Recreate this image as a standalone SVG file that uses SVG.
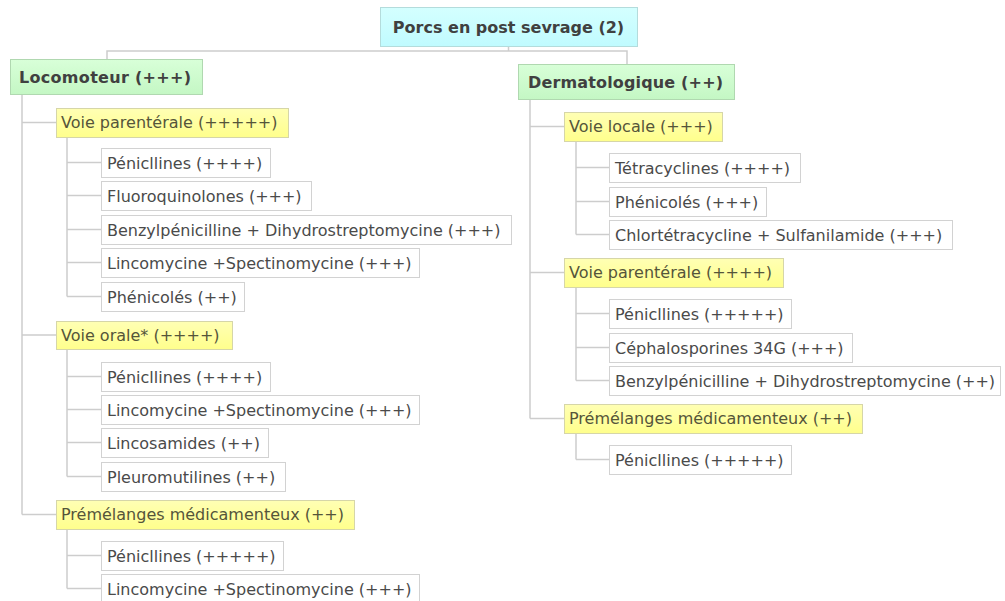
<svg xmlns="http://www.w3.org/2000/svg" width="1005" height="601" viewBox="0 0 1005 601">
<defs>
<linearGradient id="gY" x1="0" y1="0" x2="0" y2="1"><stop offset="0" stop-color="#ffffb4"/><stop offset="1" stop-color="#ffff8c"/></linearGradient>
<linearGradient id="gG" x1="0" y1="0" x2="0" y2="1"><stop offset="0" stop-color="#d8ffd8"/><stop offset="1" stop-color="#c4f7c4"/></linearGradient>
<linearGradient id="gC" x1="0" y1="0" x2="0" y2="1"><stop offset="0" stop-color="#d4ffff"/><stop offset="1" stop-color="#c0fbff"/></linearGradient>
<style>
text{font-family:"DejaVu Sans",Verdana,sans-serif;font-size:16px;fill:#4a4a4a}
.b{font-weight:bold;fill:#404040}
.root rect{fill:url(#gC);stroke:#b4dcdc;stroke-width:1}
.main rect{fill:url(#gG);stroke:#b0d8b0;stroke-width:1}
.sub rect{fill:url(#gY);stroke:#d6d6a8;stroke-width:1}
.sub text{fill:#55553a}
.leaf rect{fill:#fff;stroke:#d2d2d2;stroke-width:1}
.conn path{fill:none;stroke:#cdcdcd;stroke-width:1.5}
</style>
</defs>
<rect width="1005" height="601" fill="#fff"/>
<g id="connectors" class="conn">
<path d="M508.5,46 V51 M107,59 V51 H627 V64"/>
<path d="M22,94 V514.5 M22,122.5 H56 M22,335 H56 M22,514.5 H56"/>
<path d="M67,137 V296.5 M67,162.5 H101 M67,195.5 H101 M67,229.5 H101 M67,262.5 H101 M67,296.5 H101"/>
<path d="M67,349 V476.5 M67,376.5 H101 M67,409.5 H101 M67,442.5 H101 M67,476.5 H101"/>
<path d="M67,529 V588.5 M67,555.5 H101 M67,588.5 H101"/>
<path d="M530,99 V418.5 M530,126.5 H564 M530,272.5 H564 M530,418.5 H564"/>
<path d="M576,141 V234.5 M576,167.5 H609 M576,201.5 H609 M576,234.5 H609"/>
<path d="M576,287 V380.5 M576,313.5 H609 M576,347.5 H609 M576,380.5 H609"/>
<path d="M576,433 V459.5 M576,459.5 H609"/>
</g>
<g id="root" class="root"><rect x="380.5" y="7.5" width="257" height="39"/><text class="b" x="508.5" y="33" text-anchor="middle">Porcs en post sevrage (2)</text></g>
<g id="locomoteur" class="main"><rect x="10.5" y="59.5" width="192" height="35"/><text class="b" x="19" y="83" textLength="172">Locomoteur (+++)</text></g>
<g id="dermatologique" class="main"><rect x="518.5" y="64.5" width="216" height="35"/><text class="b" x="528" y="88" textLength="195">Dermatologique (++)</text></g>

<g id="l-parenterale" class="sub"><rect x="56.5" y="108.5" width="232" height="29"/><text x="61" y="128">Voie parentérale (+++++)</text></g>
<g id="l-p1" class="leaf"><rect x="101.5" y="148.5" width="169" height="29"/><text x="107" y="169">Pénicllines (++++)</text></g>
<g id="l-p2" class="leaf"><rect x="101.5" y="181.5" width="210" height="29"/><text x="107" y="202">Fluoroquinolones (+++)</text></g>
<g id="l-p3" class="leaf"><rect x="101.5" y="215.5" width="410" height="29"/><text x="107" y="236">Benzylpénicilline + Dihydrostreptomycine (+++)</text></g>
<g id="l-p4" class="leaf"><rect x="101.5" y="248.5" width="318" height="29"/><text x="107" y="269">Lincomycine +Spectinomycine (+++)</text></g>
<g id="l-p5" class="leaf"><rect x="101.5" y="282.5" width="143" height="29"/><text x="107" y="303">Phénicolés (++)</text></g>

<g id="l-orale" class="sub"><rect x="56.5" y="321.5" width="176" height="28"/><text x="61" y="341">Voie orale* (++++)</text></g>
<g id="l-o1" class="leaf"><rect x="101.5" y="362.5" width="169" height="29"/><text x="107" y="383">Pénicllines (++++)</text></g>
<g id="l-o2" class="leaf"><rect x="101.5" y="395.5" width="318" height="29"/><text x="107" y="416">Lincomycine +Spectinomycine (+++)</text></g>
<g id="l-o3" class="leaf"><rect x="101.5" y="428.5" width="167" height="29"/><text x="107" y="449">Lincosamides (++)</text></g>
<g id="l-o4" class="leaf"><rect x="101.5" y="462.5" width="184" height="29"/><text x="107" y="483">Pleuromutilines (++)</text></g>

<g id="l-premelanges" class="sub"><rect x="56.5" y="500.5" width="298" height="29"/><text x="61" y="520">Prémélanges médicamenteux (++)</text></g>
<g id="l-m1" class="leaf"><rect x="101.5" y="541.5" width="182" height="29"/><text x="107" y="562">Pénicllines (+++++)</text></g>
<g id="l-m2" class="leaf"><rect x="101.5" y="574.5" width="318" height="29"/><text x="107" y="595">Lincomycine +Spectinomycine (+++)</text></g>

<g id="d-locale" class="sub"><rect x="564.5" y="112.5" width="158" height="29"/><text x="569" y="132">Voie locale (+++)</text></g>
<g id="d-l1" class="leaf"><rect x="609.5" y="153.5" width="191" height="29"/><text x="615" y="174">Tétracyclines (++++)</text></g>
<g id="d-l2" class="leaf"><rect x="609.5" y="187.5" width="157" height="29"/><text x="615" y="208">Phénicolés (+++)</text></g>
<g id="d-l3" class="leaf"><rect x="609.5" y="220.5" width="343" height="29"/><text x="615" y="241">Chlortétracycline + Sulfanilamide (+++)</text></g>

<g id="d-parenterale" class="sub"><rect x="564.5" y="258.5" width="219" height="29"/><text x="569" y="278">Voie parentérale (++++)</text></g>
<g id="d-p1" class="leaf"><rect x="609.5" y="299.5" width="182" height="29"/><text x="615" y="320">Pénicllines (+++++)</text></g>
<g id="d-p2" class="leaf"><rect x="609.5" y="333.5" width="243" height="29"/><text x="615" y="354">Céphalosporines 34G (+++)</text></g>
<g id="d-p3" class="leaf"><rect x="609.5" y="366.5" width="391" height="29"/><text x="615" y="387">Benzylpénicilline + Dihydrostreptomycine (++)</text></g>

<g id="d-premelanges" class="sub"><rect x="564.5" y="404.5" width="298" height="29"/><text x="569" y="424">Prémélanges médicamenteux (++)</text></g>
<g id="d-m1" class="leaf"><rect x="609.5" y="445.5" width="182" height="29"/><text x="615" y="466">Pénicllines (+++++)</text></g>
</svg>
